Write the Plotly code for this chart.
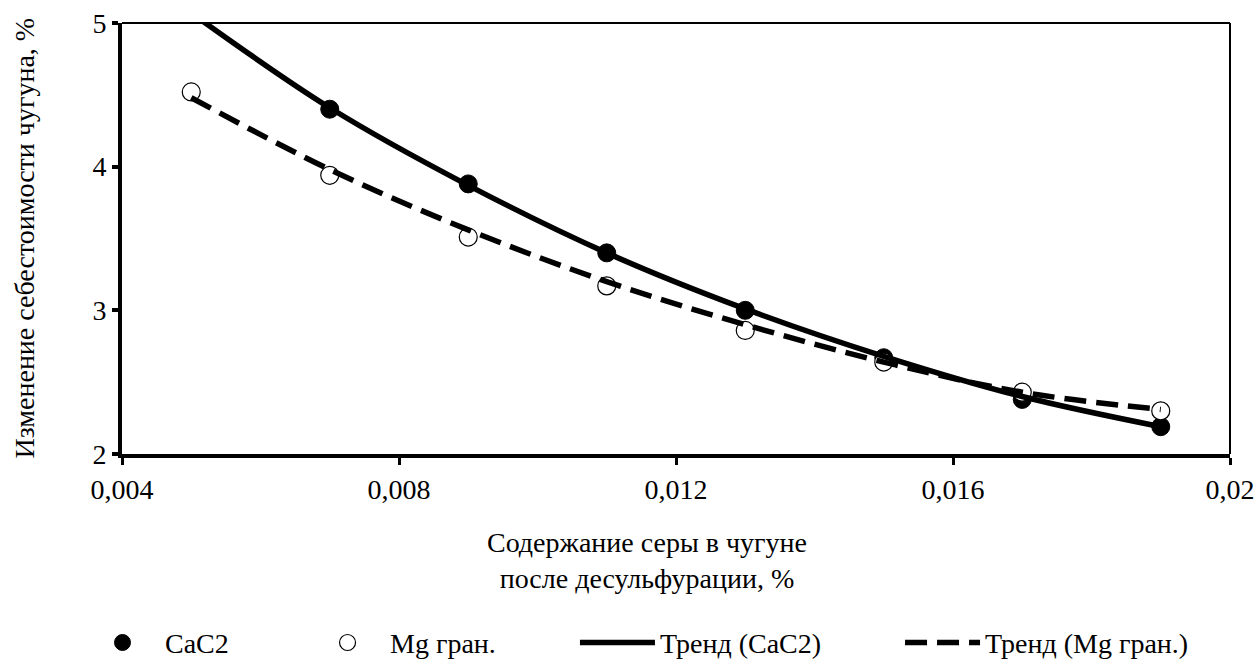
import plotly.graph_objects as go

# Data
sulfur = [0.005, 0.007, 0.009, 0.011, 0.013, 0.015, 0.017, 0.019]
cac2 = [5.08, 4.40, 3.88, 3.40, 3.00, 2.67, 2.38, 2.19]
mg = [4.52, 3.94, 3.51, 3.17, 2.86, 2.64, 2.43, 2.30]
trend_cac2 = [5.07, 4.41, 3.87, 3.40, 3.01, 2.68, 2.40, 2.19]
trend_mg = [4.48, 3.98, 3.56, 3.20, 2.90, 2.64, 2.43, 2.31]

x_tickvals = [0.004, 0.008, 0.012, 0.016, 0.02]
x_ticktext = ["0,004", "0,008", "0,012", "0,016", "0,02"]
y_tickvals = [2, 3, 4, 5]
y_ticktext = ["2", "3", "4", "5"]

FONT = "Liberation Serif"
FS = 28

fig = go.Figure()
fig.add_trace(go.Scatter(x=sulfur, y=cac2, mode="markers", name="CaC2", legend="legend",
                         marker=dict(symbol="circle", size=18, color="black",
                                     line=dict(color="black", width=1))))
fig.add_trace(go.Scatter(x=sulfur, y=mg, mode="markers", name="Mg гран.", legend="legend2",
                         marker=dict(symbol="circle", size=18, color="white",
                                     line=dict(color="black", width=1.2))))
fig.add_trace(go.Scatter(x=sulfur, y=trend_cac2, mode="lines", name="Тренд (CaC2)",
                         legend="legend3",
                         line=dict(color="black", width=5.5, shape="spline")))
fig.add_trace(go.Scatter(x=sulfur, y=trend_mg, mode="lines", name="Тренд (Mg гран.)",
                         legend="legend4",
                         line=dict(color="black", width=5.5, shape="spline", dash="22px,10px")))

def leg(x):
    return dict(orientation="h", x=x, xanchor="left", y=-0.438, yanchor="middle",
                font=dict(family=FONT, size=FS, color="black"),
                itemwidth=75, bgcolor="rgba(0,0,0,0)", borderwidth=0)

fig.update_layout(
    width=1255, height=661,
    margin=dict(l=122, r=25, t=23, b=207, autoexpand=False),
    paper_bgcolor="white", plot_bgcolor="white",
    font=dict(family=FONT, size=FS, color="black"),
    showlegend=True,
    legend=leg(-0.0379),
    legend2=leg(0.1652),
    legend3=leg(0.4088),
    legend4=leg(0.7022),
    xaxis=dict(range=[0.004, 0.02], tickvals=x_tickvals, ticktext=x_ticktext,
               showgrid=False, zeroline=False, showline=True, linecolor="black",
               linewidth=4, ticks="outside", ticklen=7, tickwidth=3, tickcolor="black",
               automargin=False, tickfont=dict(family=FONT, size=FS)),
    yaxis=dict(range=[2, 5], tickvals=y_tickvals, ticktext=y_ticktext,
               showgrid=False, zeroline=False, showline=True, linecolor="black",
               linewidth=4, ticks="outside", ticklen=6, tickwidth=4, tickcolor="black",
               automargin=False, tickfont=dict(family=FONT, size=FS)),
    annotations=[
        dict(text="Содержание серы в чугуне<br>после десульфурации, %",
             xref="paper", yref="paper", x=0.474, y=-0.246, xanchor="center",
             yanchor="middle", showarrow=False, font=dict(family=FONT, size=FS)),
        dict(text="Изменение себестоимости чугуна, %",
             xref="paper", yref="paper", x=-0.0884, y=0.5, xanchor="center",
             yanchor="middle", textangle=-90, showarrow=False,
             font=dict(family=FONT, size=FS)),
    ],
    shapes=[
        dict(type="line", xref="paper", yref="paper", x0=0, x1=1, y0=1, y1=1,
             line=dict(color="black", width=2)),
        dict(type="line", xref="paper", yref="paper", x0=1, x1=1, y0=0, y1=1,
             line=dict(color="black", width=2)),
    ],
)

fig.write_html("out.html")
